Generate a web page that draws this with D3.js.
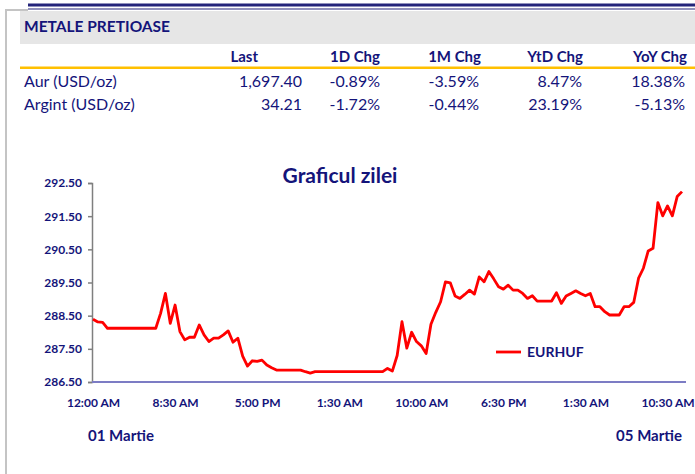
<!DOCTYPE html>
<html>
<head>
<meta charset="utf-8">
<script src="https://cdn.jsdelivr.net/npm/d3@7"></script>
<style>
  body { margin: 0; background: #fff; }
  svg { display: block; font-family: Lato, "Open Sans", sans-serif; }
</style>
</head>
<body>
<script>
// table data
const tableTitle = "METALE PRETIOASE"
const tableHeaders = ["Last", "1D Chg", "1M Chg", "YtD Chg", "YoY Chg"]
const rowNames = ["Aur (USD/oz)", "Argint (USD/oz)"]
const aurRow = ["1,697.40", "-0.89%", "-3.59%", "8.47%", "18.38%"]
const argintRow = ["34.21", "-1.72%", "-0.44%", "23.19%", "-5.13%"]

// chart data (30 min steps)
const chartTitle = "Graficul zilei"
const seriesName = "EURHUF"
const eurhuf = [
  288.39, 288.31, 288.30, 288.12, 288.12, 288.12, 288.12, 288.12, 288.12, 288.12,
  288.12, 288.12, 288.12, 288.12, 288.57, 289.17, 288.27, 288.82, 288.02, 287.77,
  287.85, 287.85, 288.22, 287.92, 287.72, 287.82, 287.82, 287.92, 288.04, 287.70,
  287.82, 287.28, 286.98, 287.14, 287.12, 287.16, 287.01, 286.93, 286.86, 286.86,
  286.86, 286.86, 286.86, 286.86, 286.81, 286.77, 286.81, 286.81, 286.81, 286.81,
  286.81, 286.81, 286.81, 286.81, 286.81, 286.81, 286.81, 286.81, 286.81, 286.81,
  286.81, 286.91, 286.83, 287.30, 288.32, 287.52, 288.00, 287.72, 287.59, 287.36,
  288.24, 288.60, 288.92, 289.52, 289.49, 289.09, 289.02, 289.14, 289.27, 289.15,
  289.67, 289.52, 289.83, 289.61, 289.37, 289.30, 289.42, 289.27, 289.27, 289.17,
  289.02, 289.10, 288.94, 288.94, 288.94, 288.94, 289.19, 288.87, 289.09, 289.17,
  289.25, 289.17, 289.10, 289.17, 288.77, 288.77, 288.62, 288.52, 288.52, 288.52,
  288.77, 288.77, 288.90, 289.63, 289.93, 290.45, 290.53, 291.91, 291.51, 291.81,
  291.51, 292.09, 292.24
]
const yTicks = [286.5, 287.5, 288.5, 289.5, 290.5, 291.5, 292.5]
const xTickLabels = ["12:00 AM", "8:30 AM", "5:00 PM", "1:30 AM", "10:00 AM", "6:30 PM", "1:30 AM", "10:30 AM"]
const tickEvery = 17
const dateLabels = ["01 Martie", "05 Martie"]

const navy = "#14147a"

const svg = d3.select("body")
    .append("svg")
    .attr("width", 695)
    .attr("height", 474)

// frame + header band
svg.append("path")
    .attr("d", "M6,474 V10 H28")
    .attr("fill", "none")
    .attr("stroke", "#c4c4c4")
    .attr("stroke-width", 2)
svg.append("rect").attr("x", 28).attr("y", 3.5).attr("width", 667).attr("height", 3).attr("fill", "#24247a")
svg.append("rect").attr("x", 28).attr("y", 8.5).attr("width", 667).attr("height", 1).attr("fill", "#24247a")
svg.append("rect").attr("x", 20).attr("y", 11).attr("width", 675).attr("height", 33).attr("fill", "#e6e6e6")
svg.append("rect").attr("x", 20).attr("y", 66.5).attr("width", 675).attr("height", 2.5).attr("fill", "#ffc000")

svg.append("text")
    .attr("x", 24).attr("y", 32)
    .attr("fill", navy)
    .attr("font-size", 15.5)
    .attr("font-weight", "bold")
    .text(tableTitle)

// column right edges
const colRight = [302, 380, 479, 582, 685]
const headerRight = [258, 380, 481, 583, 687]

svg.selectAll(".hdr")
    .data(tableHeaders)
    .enter()
    .append("text")
    .attr("class", "hdr")
    .attr("x", (d, i) => headerRight[i])
    .attr("y", 62)
    .attr("text-anchor", "end")
    .attr("fill", navy)
    .attr("font-size", 15)
    .attr("font-weight", "bold")
    .text(d => d)

const rows = [aurRow, argintRow]
rows.forEach((row, r) => {
    let y = 87 + r * 23
    svg.append("text")
        .attr("x", 24).attr("y", y)
        .attr("fill", navy)
        .attr("font-size", 16)
        .text(rowNames[r])
    svg.selectAll(".row" + r)
        .data(row)
        .enter()
        .append("text")
        .attr("x", (d, i) => colRight[i])
        .attr("y", y)
        .attr("text-anchor", "end")
        .attr("fill", navy)
        .attr("font-size", 16)
        .text(d => d)
})

// chart
const x = d3.scaleLinear()
    .domain([0, eurhuf.length - 1])
    .range([93, 682])

const y = d3.scaleLinear()
    .domain([286.5, 292.5])
    .range([382, 183])

const yAxis = d3.axisLeft(y)
    .tickValues(yTicks)
    .tickSize(4)
    .tickPadding(6)
    .tickFormat(d3.format(".2f"))

const gy = svg.append("g")
    .attr("transform", "translate(92, 0)")
    .call(yAxis)
gy.select(".domain").attr("stroke", "#7f7f7f").attr("stroke-width", 1.5)
gy.selectAll(".tick line").attr("stroke", "#7f7f7f").attr("stroke-width", 1.5)
gy.selectAll(".tick text")
    .attr("fill", navy)
    .attr("font-size", 12)
    .attr("font-weight", "bold")
    .attr("font-family", "Lato, sans-serif")

const xAxis = d3.axisBottom(x)
    .tickValues(xTickLabels.map((d, i) => i * tickEvery))
    .tickSize(0)
    .tickPadding(16)
    .tickFormat((d, i) => xTickLabels[i])

const gx = svg.append("g")
    .attr("transform", "translate(0, 382)")
    .call(xAxis)
gx.select(".domain").remove()
gx.selectAll(".tick text")
    .attr("fill", navy)
    .attr("font-size", 12)
    .attr("font-weight", "bold")
    .attr("font-family", "Lato, sans-serif")

svg.append("line")
    .attr("x1", 92).attr("x2", 686)
    .attr("y1", 382).attr("y2", 382)
    .attr("stroke", "#7c7cc4")
    .attr("stroke-width", 2)

const line = d3.line()
    .x((d, i) => x(i))
    .y(d => y(d))

svg.append("path")
    .datum(eurhuf)
    .attr("d", line)
    .attr("fill", "none")
    .attr("stroke", "#ff0000")
    .attr("stroke-width", 2.8)
    .attr("stroke-linejoin", "round")

svg.append("text")
    .attr("x", 340).attr("y", 183)
    .attr("text-anchor", "middle")
    .attr("fill", navy)
    .attr("font-size", 21)
    .attr("font-weight", "bold")
    .text(chartTitle)

// legend
svg.append("line")
    .attr("x1", 496).attr("x2", 521)
    .attr("y1", 352).attr("y2", 352)
    .attr("stroke", "#ff0000")
    .attr("stroke-width", 2.8)
svg.append("text")
    .attr("x", 527).attr("y", 357)
    .attr("fill", navy)
    .attr("font-size", 14)
    .attr("font-weight", "bold")
    .text(seriesName)

// date labels
svg.append("text")
    .attr("x", 88).attr("y", 441)
    .attr("fill", navy)
    .attr("font-size", 15)
    .attr("font-weight", "bold")
    .text(dateLabels[0])
svg.append("text")
    .attr("x", 682).attr("y", 441)
    .attr("text-anchor", "end")
    .attr("fill", navy)
    .attr("font-size", 15)
    .attr("font-weight", "bold")
    .text(dateLabels[1])
</script>
</body>
</html>
